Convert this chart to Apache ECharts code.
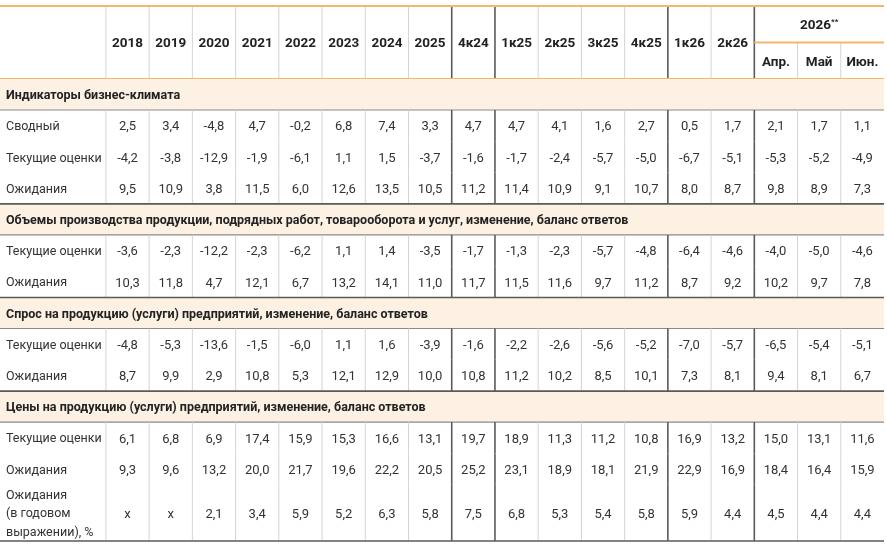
<!DOCTYPE html>
<html>
<head>
<meta charset="utf-8">
<script src="https://cdn.jsdelivr.net/npm/echarts@6/dist/echarts.min.js"></script>
<style>
  html, body { margin: 0; padding: 0; background: #fff; }
  #main { width: 887px; height: 545px; }
</style>
</head>
<body>
<div id="main"></div>
<script>
// столбцы таблицы
var colLabels = ['2018', '2019', '2020', '2021', '2022', '2023', '2024', '2025', '4к24',
    '1к25', '2к25', '3к25', '4к25', '1к26', '2к26', 'Апр.', 'Май', 'Июн.'];
var groupLabel = '2026';
var groupStart = 15;           // первый месяц 2026 года
var darkBefore = [8, 9, 13, 15]; // тёмные разделители перед этими столбцами

var sectionTitles = [
    'Индикаторы бизнес-климата',
    'Объемы производства продукции, подрядных работ, товарооборота и услуг, изменение, баланс ответов',
    'Спрос на продукцию (услуги) предприятий, изменение, баланс ответов',
    'Цены на продукцию (услуги) предприятий, изменение, баланс ответов'
];

var climateTotal   = [2.5, 3.4, -4.8, 4.7, -0.2, 6.8, 7.4, 3.3, 4.7, 4.7, 4.1, 1.6, 2.7, 0.5, 1.7, 2.1, 1.7, 1.1];
var climateCurrent = [-4.2, -3.8, -12.9, -1.9, -6.1, 1.1, 1.5, -3.7, -1.6, -1.7, -2.4, -5.7, -5.0, -6.7, -5.1, -5.3, -5.2, -4.9];
var climateExpect  = [9.5, 10.9, 3.8, 11.5, 6.0, 12.6, 13.5, 10.5, 11.2, 11.4, 10.9, 9.1, 10.7, 8.0, 8.7, 9.8, 8.9, 7.3];

var outputCurrent  = [-3.6, -2.3, -12.2, -2.3, -6.2, 1.1, 1.4, -3.5, -1.7, -1.3, -2.3, -5.7, -4.8, -6.4, -4.6, -4.0, -5.0, -4.6];
var outputExpect   = [10.3, 11.8, 4.7, 12.1, 6.7, 13.2, 14.1, 11.0, 11.7, 11.5, 11.6, 9.7, 11.2, 8.7, 9.2, 10.2, 9.7, 7.8];

var demandCurrent  = [-4.8, -5.3, -13.6, -1.5, -6.0, 1.1, 1.6, -3.9, -1.6, -2.2, -2.6, -5.6, -5.2, -7.0, -5.7, -6.5, -5.4, -5.1];
var demandExpect   = [8.7, 9.9, 2.9, 10.8, 5.3, 12.1, 12.9, 10.0, 10.8, 11.2, 10.2, 8.5, 10.1, 7.3, 8.1, 9.4, 8.1, 6.7];

var priceCurrent   = [6.1, 6.8, 6.9, 17.4, 15.9, 15.3, 16.6, 13.1, 19.7, 18.9, 11.3, 11.2, 10.8, 16.9, 13.2, 15.0, 13.1, 11.6];
var priceExpect    = [9.3, 9.6, 13.2, 20.0, 21.7, 19.6, 22.2, 20.5, 25.2, 23.1, 18.9, 18.1, 21.9, 22.9, 16.9, 18.4, 16.4, 15.9];
var priceExpectYr  = [null, null, 2.1, 3.4, 5.9, 5.2, 6.3, 5.8, 7.5, 6.8, 5.3, 5.4, 5.8, 5.9, 4.4, 4.5, 4.4, 4.4];

var rowNames = ['Сводный', 'Текущие оценки', 'Ожидания', 'Ожидания\n(в годовом\nвыражении), %'];

// строки таблицы (высоты в единицах оси y)
var HEADER_H = 73, BAND_H = 31, ROW_H = 31.3, TALL_H = 56.3;
var rows = [];
function addRow(kind, label, values, h) {
    rows.push({kind: kind, label: label, values: values, h: h});
}
addRow('header', '', null, HEADER_H);
addRow('band', sectionTitles[0], null, BAND_H);
addRow('data', rowNames[0], climateTotal, ROW_H);
addRow('data', rowNames[1], climateCurrent, ROW_H);
addRow('data', rowNames[2], climateExpect, ROW_H);
addRow('band', sectionTitles[1], null, BAND_H);
addRow('data', rowNames[1], outputCurrent, ROW_H);
addRow('data', rowNames[2], outputExpect, ROW_H);
addRow('band', sectionTitles[2], null, BAND_H);
addRow('data', rowNames[1], demandCurrent, ROW_H);
addRow('data', rowNames[2], demandExpect, ROW_H);
addRow('band', sectionTitles[3], null, BAND_H);
addRow('data', rowNames[1], priceCurrent, ROW_H);
addRow('data', rowNames[2], priceExpect, ROW_H);
addRow('data', rowNames[3], priceExpectYr, TALL_H);

var yAcc = 0;
rows.forEach(function (r) { r.top = yAcc; yAcc += r.h; });
var totalH = yAcc;

var X_MIN = -2.45, X_MAX = colLabels.length;
var FONT = 'Roboto, "Noto Sans", sans-serif';
var ORANGE = '#f3b66b', BAND_BG = '#fdf1e4', LIGHT = '#d4d4d4', DARK = '#5a5a5a', TXT = '#333';
var DY = 1.5; // небольшой сдвиг текста вниз

function fmt(v) {
    return v == null ? 'x' : v.toFixed(1).replace('.', ',');
}

function renderItem(params, api) {
    var r = rows[api.value(1)];
    var y0 = r.top, y1 = r.top + r.h, ym = (y0 + y1) / 2;
    var left = api.coord([X_MIN, y0]), right = api.coord([X_MAX, y1]);
    var ch = [];
    var i, p, q;

    if (r.kind === 'header') {
        for (i = 0; i <= colLabels.length - 1; i++) {
            var dark = darkBefore.indexOf(i) >= 0;
            var inGroup = i > groupStart;
            p = api.coord([i, inGroup ? ym : y0]);
            q = api.coord([i, y1]);
            ch.push({type: 'line', shape: {x1: p[0], y1: p[1], x2: q[0], y2: q[1]},
                style: {stroke: dark ? DARK : LIGHT, lineWidth: dark ? 1.6 : 1}});
            var c = api.coord([i + 0.5, i >= groupStart ? y0 + r.h * 0.75 : ym]);
            ch.push({type: 'text', x: c[0], y: c[1] + DY, style: {text: colLabels[i], font: 'bold 13.5px ' + FONT,
                fill: '#222', align: 'center', verticalAlign: 'middle'}});
        }
        // группа 2026
        p = api.coord([groupStart, ym]);
        q = api.coord([X_MAX, ym]);
        ch.push({type: 'line', shape: {x1: p[0], y1: p[1], x2: q[0], y2: q[1]},
            style: {stroke: ORANGE, lineWidth: 2}});
        var g = api.coord([(groupStart + X_MAX) / 2, y0 + r.h * 0.25]);
        ch.push({type: 'text', x: g[0], y: g[1] + DY, style: {
            text: '{a|' + groupLabel + '}{b|**}', align: 'center', verticalAlign: 'middle',
            rich: {
                a: {font: 'bold 13.5px ' + FONT, fill: '#222'},
                b: {font: 'bold 8px ' + FONT, fill: '#222', padding: [0, 0, 7, 0]}
            }}});
        ch.push({type: 'line', shape: {x1: left[0], y1: left[1], x2: right[0], y2: left[1]},
            style: {stroke: ORANGE, lineWidth: 2}});
        ch.push({type: 'line', shape: {x1: left[0], y1: right[1], x2: right[0], y2: right[1]},
            style: {stroke: ORANGE, lineWidth: 2.2}});
    } else if (r.kind === 'band') {
        ch.push({type: 'rect', shape: {x: left[0], y: left[1], width: right[0] - left[0], height: right[1] - left[1]},
            style: {fill: BAND_BG}});
        var t = api.coord([X_MIN, ym]);
        ch.push({type: 'text', x: t[0] + 6, y: t[1] + DY, style: {text: r.label, font: 'bold 12.5px ' + FONT,
            fill: '#222', align: 'left', verticalAlign: 'middle'}});
        ch.push({type: 'line', shape: {x1: left[0], y1: right[1], x2: right[0], y2: right[1]},
            style: {stroke: '#8a8a8a', lineWidth: 1.2}});
        if (api.value(1) > 1) {
            ch.push({type: 'line', shape: {x1: left[0], y1: left[1], x2: right[0], y2: left[1]},
                style: {stroke: DARK, lineWidth: 1.6}});
        }
    } else {
        for (i = 0; i < colLabels.length; i++) {
            var dk = darkBefore.indexOf(i) >= 0;
            p = api.coord([i, y0]);
            q = api.coord([i, y1]);
            ch.push({type: 'line', shape: {x1: p[0], y1: p[1], x2: q[0], y2: q[1]},
                style: {stroke: dk ? DARK : LIGHT, lineWidth: dk ? 1.6 : 1}});
            var cc = api.coord([i + 0.5, ym]);
            ch.push({type: 'text', x: cc[0], y: cc[1] + DY, style: {text: fmt(r.values[i]), font: '13px ' + FONT,
                fill: TXT, align: 'center', verticalAlign: 'middle'}});
        }
        var lt = api.coord([X_MIN, ym]);
        ch.push({type: 'text', x: lt[0] + 6, y: lt[1] + DY, style: {text: r.label, font: '12.5px ' + FONT,
            fill: TXT, align: 'left', verticalAlign: 'middle', lineHeight: 18.5}});
        if (api.value(1) === rows.length - 1) {
            ch.push({type: 'line', shape: {x1: left[0], y1: right[1], x2: right[0], y2: right[1]},
                style: {stroke: DARK, lineWidth: 1.6}});
        }
    }
    return {type: 'group', children: ch};
}

var myChart = echarts.init(document.getElementById('main'));
var option = {
    animation: false,
    grid: {left: 0, right: 3, top: 6, bottom: 4},
    xAxis: {type: 'value', min: X_MIN, max: X_MAX, show: false},
    yAxis: {type: 'value', min: 0, max: totalH, inverse: true, show: false},
    series: [{
        type: 'custom',
        clip: false,
        renderItem: renderItem,
        encode: {x: 0, y: 1},
        data: rows.map(function (r, i) { return [0, i]; })
    }]
};
myChart.setOption(option);
</script>
</body>
</html>
